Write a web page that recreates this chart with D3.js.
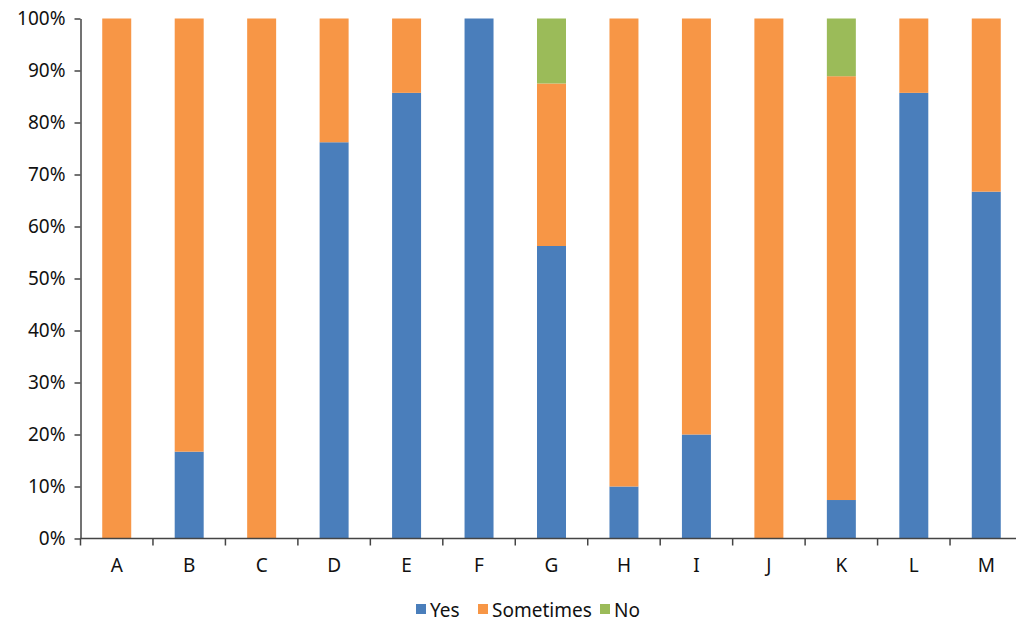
<!DOCTYPE html>
<html>
<head>
<meta charset="utf-8">
<script src="https://cdn.jsdelivr.net/npm/d3@7"></script>
<style>
  html, body { margin: 0; padding: 0; background: #fff; }
  svg { display: block; font-family: "Noto Sans", "DejaVu Sans", sans-serif; }
</style>
</head>
<body>
<svg id="chart" width="1016" height="624"></svg>
<script>
// Response categories
const categories = ["A", "B", "C", "D", "E", "F", "G", "H", "I", "J", "K", "L", "M"];
const seriesNames = ["Yes", "Sometimes", "No"];
const seriesColors = ["#4A7EBB", "#F79646", "#9BBB59"];

// Share of answers per category (percent)
const yesValues       = [0, 16.7, 0, 76.2, 85.7, 100, 56.25, 10, 20, 0, 7.4, 85.7, 66.7];
const sometimesValues = [100, 83.3, 100, 23.8, 14.3, 0, 31.25, 90, 80, 100, 81.5, 14.3, 33.3];
const noValues        = [0, 0, 0, 0, 0, 0, 12.5, 0, 0, 0, 11.1, 0, 0];

const yTicks = [0, 10, 20, 30, 40, 50, 60, 70, 80, 90, 100];

const rows = categories.map((c, i) => ({
  cat: c, Yes: yesValues[i], Sometimes: sometimesValues[i], No: noValues[i]
}));

const svg = d3.select("#chart");
const margin = { left: 80.5, right: -6.5, top: 18.5, bottom: 85.5 };
const W = 1016, H = 624;
const x0 = margin.left, x1 = W - margin.right;
const y0 = H - margin.bottom, y1 = margin.top;

const x = d3.scaleBand().domain(categories).range([x0, x1]).paddingInner(0.6).paddingOuter(0.3);
const y = d3.scaleLinear().domain([0, 100]).range([y0, y1]);

const stack = d3.stack().keys(seriesNames);
const layers = stack(rows);

svg.append("g").selectAll("g")
  .data(layers)
  .join("g")
  .attr("fill", (d, i) => seriesColors[i])
  .selectAll("rect")
  .data(d => d)
  .join("rect")
  .attr("x", d => x(d.data.cat))
  .attr("width", x.bandwidth())
  .attr("y", d => y(d[1]))
  .attr("height", d => Math.max(0, y(d[0]) - y(d[1])));

// Y axis
const yAxis = d3.axisLeft(y).tickValues(yTicks).tickFormat(d => d + "%").tickSize(6).tickSizeOuter(0);
const gy = svg.append("g").attr("transform", `translate(${x0},0)`).call(yAxis);
gy.select(".domain").attr("stroke", "#444").attr("stroke-width", 1.5);
gy.selectAll(".tick line").attr("stroke", "#444").attr("stroke-width", 1.5);
gy.selectAll(".tick text").attr("x", -15).attr("font-size", 19).attr("fill", "#111")
  .attr("font-family", "\"Noto Sans\", sans-serif");

// X axis with tick marks at band boundaries
const gx = svg.append("g").attr("transform", `translate(0,${y0})`);
gx.append("line").attr("x1", x0).attr("x2", x1).attr("stroke", "#444").attr("stroke-width", 1.5);
const step = x.step();
const boundaries = d3.range(categories.length + 1).map(i => x0 + i * step);
gx.selectAll("line.tk").data(boundaries).join("line").attr("class", "tk")
  .attr("x1", d => d).attr("x2", d => d).attr("y1", 0).attr("y2", 7)
  .attr("stroke", "#444").attr("stroke-width", 1.5);
gx.selectAll("text").data(categories).join("text")
  .attr("x", d => x(d) + x.bandwidth() / 2)
  .attr("y", 33)
  .attr("text-anchor", "middle")
  .attr("font-size", 19)
  .attr("fill", "#111")
  .text(d => d);

// Legend
const legendItems = [
  { name: "Yes", x: 416 },
  { name: "Sometimes", x: 478 },
  { name: "No", x: 600 }
];
const lg = svg.append("g");
legendItems.forEach((it, i) => {
  lg.append("rect").attr("x", it.x).attr("y", 604).attr("width", 10).attr("height", 10).attr("fill", seriesColors[i]);
  lg.append("text").attr("x", it.x + 14).attr("y", 617).attr("font-size", 19).attr("fill", "#111").text(it.name);
});
</script>
</body>
</html>
